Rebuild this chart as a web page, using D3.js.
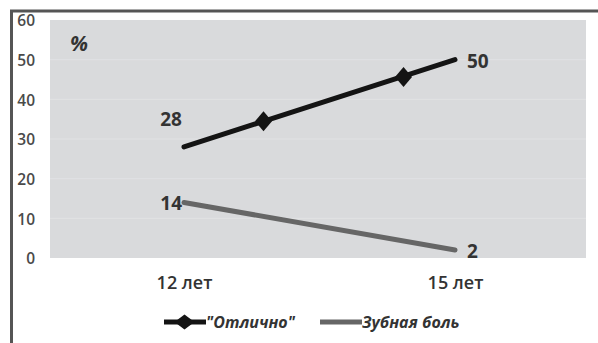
<!DOCTYPE html>
<html>
<head>
<meta charset="utf-8">
<script src="https://cdn.jsdelivr.net/npm/d3@7"></script>
<style>
  html, body { margin: 0; padding: 0; background: #fff; }
  svg { display: block; font-family: "Open Sans", "DejaVu Sans", sans-serif; }
</style>
</head>
<body>
<svg id="chart" width="598" height="343"></svg>
<script>
// Age groups and survey shares, %
const ages = [12, 15];
const ageLabels = ["12 лет", "15 лет"];
const excellent = [28, 50];          // "Отлично"
const toothache = [14, 2];           // Зубная боль
// diamond markers sitting on the "Отлично" line
const markerAges = [12.88, 14.43];
const markerValues = [34.5, 45.6];
const yTicks = [0, 10, 20, 30, 40, 50, 60];
const seriesNames = ['"Отлично"', "Зубная боль"];

const svg = d3.select("#chart");
const plot = { left: 50, right: 586, top: 20, bottom: 258 };

const x = d3.scaleLinear().domain([12, 15]).range([184, 455]);
const y = d3.scaleLinear().domain([0, 60]).range([plot.bottom, plot.top]);

// frame
svg.append("rect").attr("x", 50).attr("y", 20).attr("width", plot.right - plot.left)
  .attr("height", plot.bottom - plot.top).attr("fill", "#d9dadc");
svg.append("line").attr("x1", 10).attr("x2", 598).attr("y1", 11).attr("y2", 11)
  .attr("stroke", "#555").attr("stroke-width", 3);
svg.append("line").attr("x1", 11.5).attr("x2", 11.5).attr("y1", 10).attr("y2", 343)
  .attr("stroke", "#555").attr("stroke-width", 3);

// gridlines
svg.append("g").selectAll("line").data(yTicks.filter(d => d > 0 && d < 60)).join("line")
  .attr("x1", plot.left).attr("x2", plot.right)
  .attr("y1", d => y(d)).attr("y2", d => y(d))
  .attr("stroke", "#e1e2e4").attr("stroke-width", 1);

// y axis labels
const yAxis = d3.axisLeft(y).tickValues(yTicks).tickSize(0).tickPadding(0);
const gy = svg.append("g").attr("transform", "translate(35,1)").call(yAxis);
gy.select(".domain").remove();
gy.selectAll("text").attr("fill", "#4a4a4a").attr("font-size", 15.5).attr("font-weight", 600)
  .attr("font-family", '"Open Sans", sans-serif');

// x axis labels
const xAxis = d3.axisBottom(x).tickValues(ages).tickFormat((d, i) => ageLabels[i]).tickSize(0).tickPadding(0);
const gx = svg.append("g").attr("transform", "translate(0,276)").call(xAxis);
gx.select(".domain").remove();
gx.selectAll("text").attr("fill", "#333").attr("font-size", 18).attr("font-weight", 600)
  .attr("font-family", '"Open Sans", sans-serif');

// "%" unit label
svg.append("text").attr("x", 70).attr("y", 51).text("%")
  .attr("font-size", 21).attr("font-weight", 700).attr("font-style", "italic").attr("fill", "#333");

const line = d3.line().x(d => x(d[0])).y(d => y(d[1]));

// Зубная боль line
svg.append("path").datum(ages.map((a, i) => [a, toothache[i]]))
  .attr("d", line).attr("fill", "none").attr("stroke", "#666").attr("stroke-width", 5)
  .attr("stroke-linecap", "round");

// "Отлично" line
svg.append("path").datum(ages.map((a, i) => [a, excellent[i]]))
  .attr("d", line).attr("fill", "none").attr("stroke", "#141414").attr("stroke-width", 5)
  .attr("stroke-linecap", "round");

const diamondPath = (hw, hh) => `M0,${-hh}L${hw},0L0,${hh}L${-hw},0Z`;
svg.append("g").selectAll("path").data(markerAges.map((a, i) => [a, markerValues[i]])).join("path")
  .attr("d", diamondPath(8.5, 10))
  .attr("transform", d => `translate(${x(d[0])},${y(d[1])})`)
  .attr("fill", "#141414");

// value labels
const labelStyle = s => s.attr("font-size", 19).attr("font-weight", 700).attr("fill", "#333")
  .attr("dominant-baseline", "central");
svg.append("text").attr("x", x(ages[0]) - 13).attr("y", y(excellent[0]) - 28)
  .attr("text-anchor", "middle").text(excellent[0]).call(labelStyle);
svg.append("text").attr("x", x(ages[1]) + 12).attr("y", y(excellent[1]) + 1)
  .attr("text-anchor", "start").text(excellent[1]).call(labelStyle);
svg.append("text").attr("x", x(ages[0]) - 2).attr("y", y(toothache[0]) + 1)
  .attr("text-anchor", "end").text(toothache[0]).call(labelStyle);
svg.append("text").attr("x", x(ages[1]) + 12).attr("y", y(toothache[1]) + 1)
  .attr("text-anchor", "start").text(toothache[1]).call(labelStyle);

// legend
const lg = svg.append("g").attr("transform", "translate(0,322)");
lg.append("line").attr("x1", 164).attr("x2", 206).attr("y1", 0).attr("y2", 0)
  .attr("stroke", "#141414").attr("stroke-width", 5);
lg.append("path").attr("d", diamondPath(10, 7.5)).attr("transform", "translate(184.5,0)").attr("fill", "#141414");
lg.append("text").attr("x", 206).attr("y", 0).text(seriesNames[0]);
lg.append("line").attr("x1", 320).attr("x2", 362).attr("y1", 0).attr("y2", 0)
  .attr("stroke", "#666").attr("stroke-width", 5);
lg.append("text").attr("x", 362).attr("y", 0).text(seriesNames[1]);
lg.selectAll("text").attr("font-size", 16).attr("font-weight", 700).attr("font-style", "italic")
  .attr("fill", "#333").attr("dominant-baseline", "central");
</script>
</body>
</html>
